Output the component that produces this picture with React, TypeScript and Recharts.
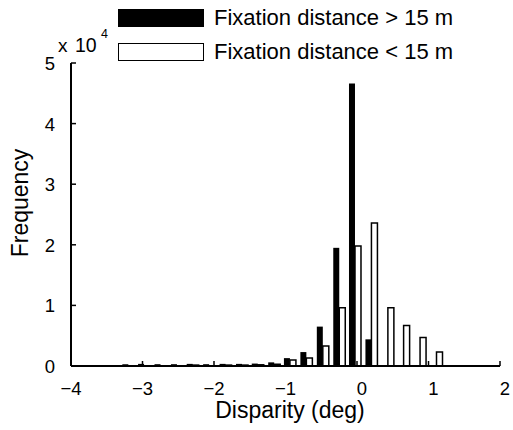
import { BarChart, Bar, XAxis, YAxis, Legend } from "recharts";

// bin centres (deg) and counts per bin
const bins = [-3.2, -2.98, -2.75, -2.52, -2.3, -2.07, -1.84, -1.61, -1.39, -1.16, -0.94, -0.71, -0.48, -0.25, -0.03, 0.2, 0.43, 0.65, 0.88, 1.11];
const far = [300, 350, 300, 300, 350, 300, 350, 350, 400, 600, 1300, 2300, 6500, 19500, 46600, 4400, 0, 0, 0, 0];
const near = [0, 0, 0, 0, 150, 0, 150, 150, 200, 300, 1000, 1300, 3300, 9600, 19800, 23600, 9600, 6700, 4700, 2300];

const xTicks = [-4, -3, -2, -1, 0, 1, 2];
const yTicks = [0, 10000, 20000, 30000, 40000, 50000];

const data = bins.map((b, i) => ({ bin: b, far: far[i], near: near[i] }));

const font = '"Liberation Sans", Arial, sans-serif';

const fmt = (v: number) => (v < 0 ? "\u2212" + Math.abs(v) : String(v));

function XTick({ x, y, payload }: any) {
  const v = payload.value;
  return (
    <g>
      <line x1={x} y1={y} x2={x} y2={y - 5} stroke="#000" strokeWidth={1.5} />
      <text x={x + (v >= 0 ? 5 : 0)} y={y + 29} textAnchor="middle" fontSize={18.5} fontFamily={font} fill="#000">
        {fmt(v)}
      </text>
    </g>
  );
}

function YTick({ x, y, payload }: any) {
  return (
    <g>
      <line x1={x} y1={y} x2={x + 5} y2={y} stroke="#000" strokeWidth={1.5} />
      <text x={x - 16} y={y + 7} textAnchor="end" fontSize={18.5} fontFamily={font} fill="#000">
        {payload.value / 10000}
      </text>
    </g>
  );
}

function LegendBox() {
  const row = (filled: boolean, label: string) => (
    <div style={{ display: "flex", alignItems: "center", height: 34 }}>
      <div
        style={{
          width: 84,
          height: 16,
          background: filled ? "#000" : "#fff",
          border: "1.5px solid #000",
          marginRight: 10,
        }}
      />
      <span style={{ fontFamily: font, fontSize: 22, color: "#000", whiteSpace: "nowrap" }}>{label}</span>
    </div>
  );
  return (
    <div>
      {row(true, "Fixation distance > 15 m")}
      {row(false, "Fixation distance < 15 m")}
    </div>
  );
}

export default function App() {
  return (
    <div style={{ position: "absolute", left: 0, top: 0, width: 513, height: 430, background: "#fff" }}>
      <BarChart
        width={513}
        height={430}
        data={data}
        margin={{ top: 63, right: 13, bottom: 30, left: 0 }}
        barGap={0}
        barSize={6}
      >
        <XAxis
          dataKey="bin"
          type="number"
          domain={[-4, 2]}
          ticks={xTicks}
          interval={0}
          height={34}
          tickSize={0}
          tickMargin={0}
          tickLine={false}
          axisLine={{ stroke: "#000", strokeWidth: 2 }}
          tick={<XTick />}
          allowDataOverflow
          label={{
            content: () => (
              <text x={290} y={418} textAnchor="middle" fontSize={23} fontFamily={font} fill="#000">
                Disparity (deg)
              </text>
            ),
          }}
        />
        <YAxis
          type="number"
          domain={[0, 50000]}
          ticks={yTicks}
          interval={0}
          width={71}
          tickSize={0}
          tickMargin={0}
          tickLine={false}
          axisLine={{ stroke: "#000", strokeWidth: 2 }}
          tick={<YTick />}
          label={{
            content: () => (
              <g>
                <text transform="translate(28,203) rotate(-90)" textAnchor="middle" fontSize={23} fontFamily={font} fill="#000">
                  Frequency
                </text>
                <text x={58} y={52} fontSize={19} fontFamily={font} fill="#000">
                  x
                </text>
                <text x={75} y={52} fontSize={19.5} fontFamily={font} fill="#000">
                  10
                </text>
                <text x={101} y={38} fontSize={12.5} fontFamily={font} fill="#000">
                  4
                </text>
              </g>
            ),
          }}
        />
        <Legend
          layout="vertical"
          align="center"
          verticalAlign="middle"
          wrapperStyle={{ position: "absolute", left: 118, top: 1, width: "auto" }}
          content={<LegendBox />}
        />
        <Bar dataKey="far" name="Fixation distance > 15 m" fill="#000" isAnimationActive={false} />
        <Bar dataKey="near" name="Fixation distance < 15 m" fill="#fff" stroke="#000" strokeWidth={1.5} isAnimationActive={false} />
      </BarChart>
    </div>
  );
}
